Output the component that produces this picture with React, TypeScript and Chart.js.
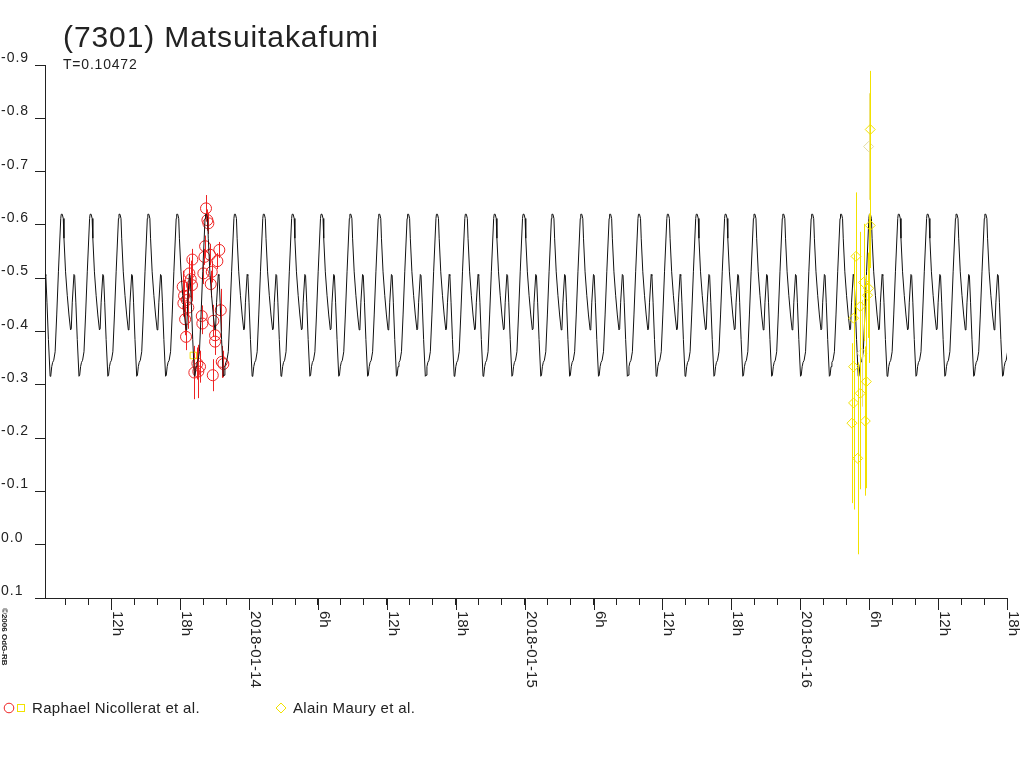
import React, { useEffect, useRef } from "react";
import { Chart, registerables } from "chart.js";

Chart.register(...registerables);

// ---------- texts ----------
const TITLE = "(7301) Matsuitakafumi";
const PERIOD_LABEL = "T=0.10472";
const COPYRIGHT = "©2006 OdG-RB";
const seriesNames = ["Raphael Nicollerat et al.", "Alain Maury et al."];

// ---------- axes (x in hours since 2018-01-13 00:00 UT) ----------
const X_MIN = 6.23;
const X_MAX = 90;
const X_STEP = 2;
const xLabelHours = [12, 18, 24, 30, 36, 42, 48, 54, 60, 66, 72, 78, 84, 90];
const xLabels = [
  "12h", "18h", "2018-01-14", "6h", "12h", "18h", "2018-01-15",
  "6h", "12h", "18h", "2018-01-16", "6h", "12h", "18h",
];
const yTickValues = [-0.9, -0.8, -0.7, -0.6, -0.5, -0.4, -0.3, -0.2, -0.1, 0.0, 0.1];
const yTickLabels = ["-0.9", "-0.8", "-0.7", "-0.6", "-0.5", "-0.4", "-0.3", "-0.2", "-0.1", "0.0", "0.1"];

// ---------- model lightcurve: one rotation ----------
const PERIOD_HOURS = 0.10472 * 24;
const modelEpochHours = 12.76; // a primary maximum
const modelPhase = [
  0.0, 0.035, 0.059, 0.114, 0.173, 0.232, 0.288, 0.312, 0.347, 0.405, 0.43,
  0.47, 0.52, 0.579, 0.604, 0.635, 0.666, 0.704, 0.753, 0.808, 0.867, 0.947, 0.965,
];
const modelMag = [
  -0.62, -0.612, -0.575, -0.512, -0.468, -0.431, -0.403, -0.405, -0.455, -0.507, -0.505,
  -0.455, -0.385, -0.316, -0.318, -0.334, -0.342, -0.346, -0.362, -0.431, -0.512, -0.612, -0.62,
];

// ---------- Raphael Nicollerat et al. ----------
const nicolleratTime = [
  20.25, 20.37, 20.455, 21.41, 20.17, 19.06, 20.11, 20.6, 21.24, 18.8, 18.92, 19.03,
  20.02, 20.75, 20.66, 18.22, 18.34, 18.28, 18.71, 18.57, 18.43, 19.88, 19.93, 20.89,
  21.535, 18.51, 21.04, 21.04, 19.5, 19.73, 19.58, 19.235, 20.84, 21.62, 21.76,
];
const nicolleratMag = [
  -0.631, -0.609, -0.603, -0.553, -0.56, -0.535, -0.54, -0.544, -0.532, -0.509, -0.498, -0.487,
  -0.509, -0.512, -0.489, -0.484, -0.467, -0.453, -0.445, -0.459, -0.423, -0.429, -0.415, -0.42,
  -0.44, -0.39, -0.393, -0.381, -0.34, -0.334, -0.325, -0.323, -0.318, -0.343, -0.339,
];
const nicolleratErr = [
  0.025, 0.02, 0.02, 0.015, 0.02, 0.02, 0.015, 0.02, 0.015, 0.03, 0.035, 0.03,
  0.02, 0.02, 0.025, 0.03, 0.03, 0.025, 0.04, 0.03, 0.03, 0.02, 0.02, 0.03,
  0.04, 0.025, 0.02, 0.025, 0.03, 0.03, 0.05, 0.05, 0.03, 0.03, 0.025,
];
const nicolleratSquareTime = [19.15];
const nicolleratSquareMag = [-0.355];

// ---------- Alain Maury et al. ----------
const mauryTime = [78.09, 78.09, 76.85, 77.51, 77.95, 77.86, 77.22, 76.64, 76.64, 77.75, 77.22, 76.64, 77.66, 76.5, 77.0];
const mauryMag = [-0.779, -0.599, -0.541, -0.492, -0.481, -0.468, -0.447, -0.425, -0.334, -0.306, -0.284, -0.266, -0.232, -0.228, -0.162];
const mauryErr = [0.11, 0.08, 0.12, 0.11, 0.14, 0.08, 0.14, 0.12, 0.2, 0.2, 0.18, 0.2, 0.14, 0.15, 0.18];
const mauryPaleTime = [77.95, 77.37];
const mauryPaleMag = [-0.747, -0.359];
const mauryPaleErr = [0.1, 0.1];

// ---------- colours ----------
const RED = "#ee2424";
const YELLOW = "#f2e200";
const PALE = "#e2dca0";
const INK = "#222222";
const FONT = '"Liberation Sans", Arial, sans-serif';

function pts(xs: number[], ys: number[]) {
  return xs.map((x, i) => ({ x, y: ys[i] }));
}

function modelPoints() {
  const out: { x: number; y: number }[] = [];
  const k0 = Math.floor((X_MIN - modelEpochHours) / PERIOD_HOURS) - 1;
  const k1 = Math.ceil((X_MAX - modelEpochHours) / PERIOD_HOURS) + 1;
  for (let k = k0; k <= k1; k++) {
    for (let i = 0; i < modelPhase.length; i++) {
      out.push({ x: modelEpochHours + (k + modelPhase[i]) * PERIOD_HOURS, y: modelMag[i] });
    }
  }
  return out;
}

const errorBarPlugin = {
  id: "errorBars",
  beforeDatasetDraw(chart: any, args: any) {
    const ds = chart.data.datasets[args.index];
    if (!ds.errors) return;
    const xs = chart.scales.x;
    const ys = chart.scales.y;
    const ctx = chart.ctx;
    ctx.save();
    ctx.beginPath();
    ctx.rect(chart.chartArea.left, chart.chartArea.top, chart.chartArea.right - chart.chartArea.left, chart.chartArea.bottom - chart.chartArea.top);
    ctx.clip();
    ctx.strokeStyle = ds.errorColor;
    ctx.lineWidth = 1;
    ds.data.forEach((p: any, i: number) => {
      const e = ds.errors[i];
      const x = Math.round(xs.getPixelForValue(p.x)) + 0.5;
      ctx.beginPath();
      ctx.moveTo(x, ys.getPixelForValue(p.y - e));
      ctx.lineTo(x, ys.getPixelForValue(p.y + e));
      ctx.stroke();
    });
    ctx.restore();
  },
};

const textPlugin = {
  id: "texts",
  afterDraw(chart: any) {
    const ctx = chart.ctx;
    const xs = chart.scales.x;
    const ys = chart.scales.y;
    const bottom = chart.chartArea.bottom;
    ctx.save();
    ctx.fillStyle = INK;
    ctx.strokeStyle = INK;
    ctx.textAlign = "left";
    ctx.textBaseline = "alphabetic";

    // title
    ctx.font = `30px ${FONT}`;
    (ctx as any).letterSpacing = "0.9px";
    ctx.fillText(TITLE, 63, 47);
    ctx.font = `14px ${FONT}`;
    (ctx as any).letterSpacing = "0.8px";
    ctx.fillText(PERIOD_LABEL, 63, 69);

    // y labels
    ctx.font = `14px ${FONT}`;
    (ctx as any).letterSpacing = "1px";
    yTickValues.forEach((v, i) => {
      ctx.fillText(yTickLabels[i], 1, ys.getPixelForValue(v) - 3);
    });

    // x labels (rotated clockwise) and longer ticks
    (ctx as any).letterSpacing = "0px";
    ctx.font = `15px ${FONT}`;
    ctx.lineWidth = 1;
    xLabelHours.forEach((h, i) => {
      const px = Math.round(xs.getPixelForValue(h)) + 0.5;
      ctx.beginPath();
      ctx.moveTo(px, bottom);
      ctx.lineTo(px, bottom + 12);
      ctx.stroke();
      ctx.save();
      ctx.translate(px + 1.5, 611);
      ctx.rotate(Math.PI / 2);
      ctx.fillText(xLabels[i], 0, 0);
      ctx.restore();
    });

    // copyright
    ctx.save();
    ctx.font = `bold 8px ${FONT}`;
    ctx.translate(1.5, 608);
    ctx.rotate(Math.PI / 2);
    ctx.fillText(COPYRIGHT, 0, 0);
    ctx.restore();

    // legend
    ctx.font = `15px ${FONT}`;
    (ctx as any).letterSpacing = "0.35px";
    ctx.lineWidth = 1;
    ctx.strokeStyle = RED;
    ctx.beginPath();
    ctx.arc(9, 708, 4.8, 0, Math.PI * 2);
    ctx.stroke();
    ctx.strokeStyle = YELLOW;
    ctx.strokeRect(17.5, 704.5, 7, 7);
    ctx.fillText(seriesNames[0], 32, 713);
    ctx.beginPath();
    ctx.moveTo(276, 708);
    ctx.lineTo(281, 703);
    ctx.lineTo(286, 708);
    ctx.lineTo(281, 713);
    ctx.closePath();
    ctx.stroke();
    ctx.fillText(seriesNames[1], 293, 713);
    ctx.restore();
  },
};

export default function App() {
  const ref = useRef<HTMLCanvasElement | null>(null);

  useEffect(() => {
    if (!ref.current) return;
    const chart = new Chart(ref.current, {
      type: "scatter",
      data: {
        datasets: [
          {
            label: seriesNames[1],
            data: pts(mauryTime, mauryMag),
            errors: mauryErr,
            errorColor: YELLOW,
            pointStyle: "rectRot",
            pointRadius: 5,
            borderColor: YELLOW,
            backgroundColor: "rgba(0,0,0,0)",
            borderWidth: 1,
            order: 0,
          } as any,
          {
            label: seriesNames[1] + " (low weight)",
            data: pts(mauryPaleTime, mauryPaleMag),
            errors: mauryPaleErr,
            errorColor: "#eee27a",
            pointStyle: "rectRot",
            pointRadius: 5,
            borderColor: PALE,
            backgroundColor: "rgba(0,0,0,0)",
            borderWidth: 1,
            order: 1,
          } as any,
          {
            label: "model",
            data: modelPoints(),
            showLine: true,
            pointRadius: 0,
            borderColor: "#111111",
            borderWidth: 1,
            tension: 0,
            order: 2,
          } as any,
          {
            label: seriesNames[0] + " (2)",
            data: pts(nicolleratSquareTime, nicolleratSquareMag),
            pointStyle: "rect",
            pointRadius: 4.6,
            borderColor: YELLOW,
            backgroundColor: "rgba(0,0,0,0)",
            borderWidth: 1,
            order: 3,
          } as any,
          {
            label: seriesNames[0],
            data: pts(nicolleratTime, nicolleratMag),
            errors: nicolleratErr,
            errorColor: RED,
            pointStyle: "circle",
            pointRadius: 5.5,
            borderColor: RED,
            backgroundColor: "rgba(0,0,0,0)",
            borderWidth: 1,
            order: 4,
          } as any,
        ],
      },
      options: {
        animation: false,
        responsive: false,
        devicePixelRatio: 1,
        events: [],
        layout: { padding: { left: 0, right: 17, top: 65, bottom: 0 } },
        plugins: {
          legend: { display: false },
          tooltip: { enabled: false },
          title: { display: false },
        },
        scales: {
          x: {
            type: "linear",
            min: X_MIN,
            max: X_MAX,
            ticks: { display: false, stepSize: X_STEP, includeBounds: false },
            grid: { drawOnChartArea: false, drawTicks: true, tickLength: 7, color: INK },
            border: { display: true, color: INK, width: 1 },
            afterFit: (s: any) => {
              s.height = 170;
            },
          },
          y: {
            type: "linear",
            reverse: true,
            min: -0.9,
            max: 0.1,
            ticks: { display: false, stepSize: 0.1 },
            grid: { drawOnChartArea: false, drawTicks: true, tickLength: 10, color: INK },
            border: { display: true, color: INK, width: 1 },
            afterFit: (s: any) => {
              s.width = 45;
            },
          },
        },
      } as any,
      plugins: [errorBarPlugin, textPlugin],
    });
    return () => chart.destroy();
  }, []);

  return (
    <div style={{ position: "fixed", left: 0, top: 0, width: 1024, height: 768, background: "#fff" }}>
      <canvas ref={ref} width={1024} height={768} style={{ display: "block", width: 1024, height: 768 }} />
    </div>
  );
}
